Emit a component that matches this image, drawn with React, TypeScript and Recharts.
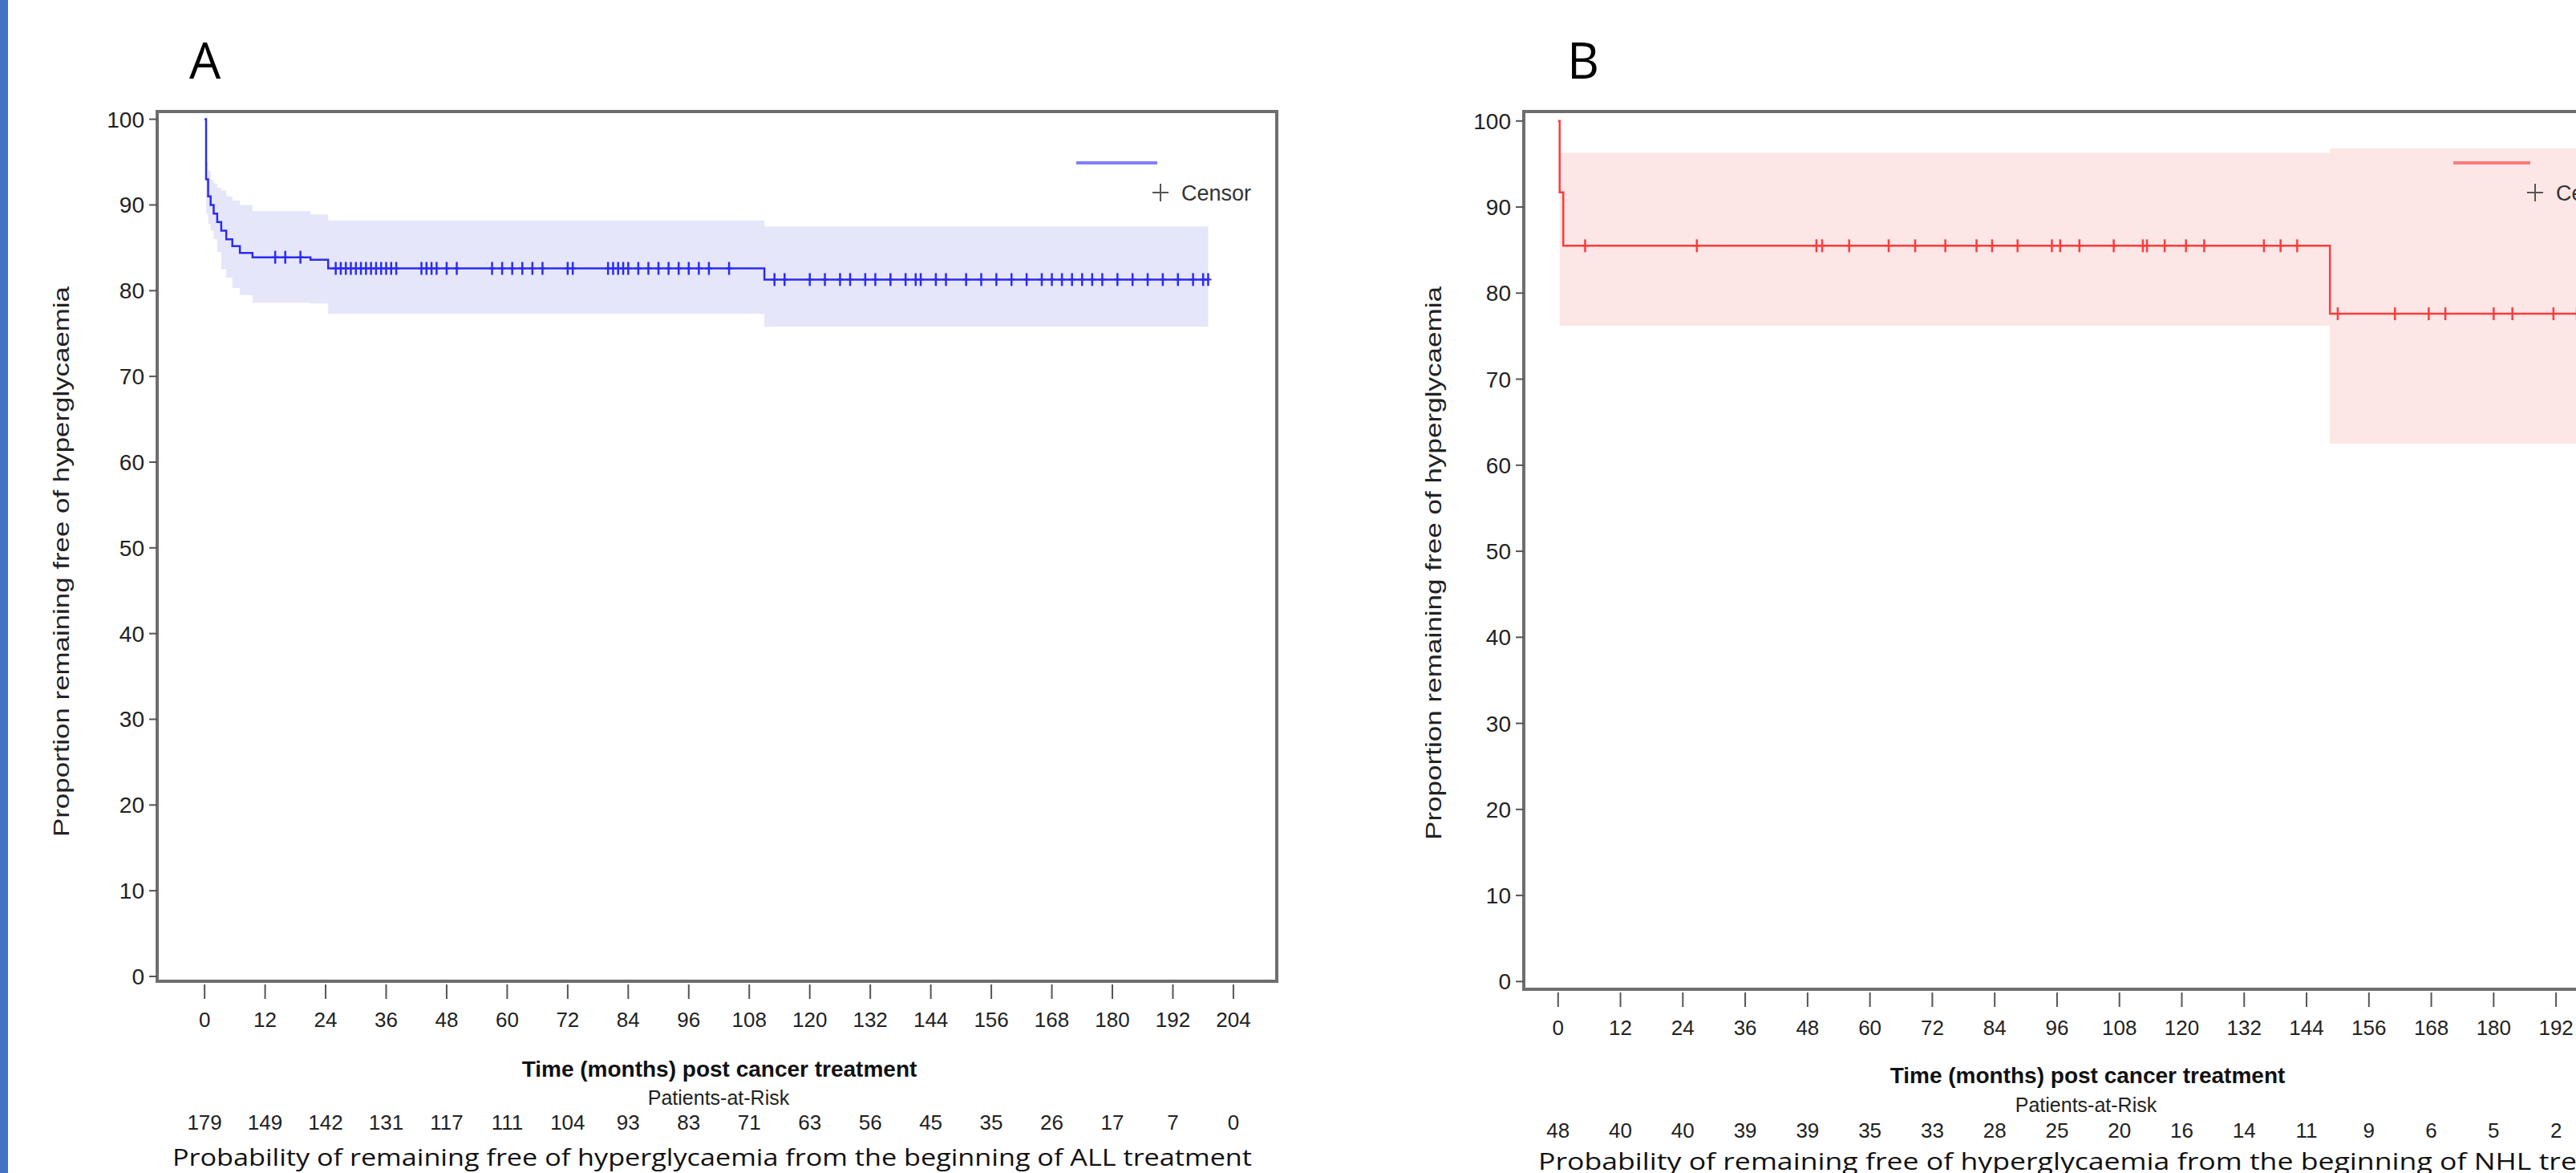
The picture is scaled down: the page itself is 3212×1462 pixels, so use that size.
import React from 'react';
import { ComposedChart, Area, Line, Scatter, XAxis, YAxis, ReferenceArea } from 'recharts';

// ---- Panel A (ALL) ----
const monthTicksA = [0, 12, 24, 36, 48, 60, 72, 84, 96, 108, 120, 132, 144, 156, 168, 180, 192, 204];
const atRiskA = [179, 149, 142, 131, 117, 111, 104, 93, 83, 71, 63, 56, 45, 35, 26, 17, 7, 0];
const kmTimesA = [0, 0.3, 0.7, 1.2, 1.8, 2.5, 3.3, 4.3, 5.5, 7, 9.5, 21, 24.5, 111, 199];
const survA = [100, 93, 91, 90, 89, 88, 87, 86, 85.2, 84.4, 83.9, 83.6, 82.6, 81.3, 81.3];
const lowerA = [100, 89, 87.8, 87, 86, 84.5, 82.5, 81.5, 80.3, 79.5, 78.6, 78.5, 77.3, 75.8, 75.8];
const upperA = [100, 95, 94, 93, 92.5, 92, 91.7, 91, 90.5, 90, 89.3, 88.9, 88.2, 87.5, 87.5];
const censorA = [14, 16, 19, 26, 27, 28, 29, 30, 31, 32, 33, 34, 35, 36, 37, 38, 43, 44, 45, 46, 48, 50, 57, 59, 61, 63, 65, 67, 72, 73, 80, 81, 82, 83, 84, 86, 88, 90, 92, 94, 96, 98, 100, 104, 113, 115, 120, 123, 126, 128, 131, 133, 136, 139, 141, 142, 145, 147, 151, 154, 157, 160, 163, 166, 168, 170, 172, 174, 176, 178, 181, 184, 187, 190, 193, 196, 198, 199];

// ---- Panel B (NHL) ----
const monthTicksB = [0, 12, 24, 36, 48, 60, 72, 84, 96, 108, 120, 132, 144, 156, 168, 180, 192];
const atRiskB = [48, 40, 40, 39, 39, 35, 33, 28, 25, 20, 16, 14, 11, 9, 6, 5, 2];
const kmTimesB = [0, 0.3, 1, 148.5, 205];
const survB = [100, 91.7, 85.5, 77.6, 77.6];
const lowerB = [100, 76.2, 76.2, 62.5, 62.5];
const upperB = [100, 96.3, 96.3, 96.8, 96.8];
const censorB = [5.2, 26.7, 49.7, 50.8, 56, 63.6, 68.7, 74.5, 80.5, 83.5, 88.4, 95, 96.6, 100.3, 106.9, 112.5, 113.3, 116.7, 120.8, 124.3, 135.8, 139, 142.2, 150, 161, 167.5, 170.7, 180, 183.6, 191.5, 196, 200];

const build = (t: number[], s: number[], lo: number[], hi: number[]) =>
  t.map((v, i) => ({ t: v, s: s[i], ci: [lo[i], hi[i]] }));
const censorPts = (c: number[], t: number[], s: number[]) =>
  c.map(v => {
    let k = 0;
    t.forEach((tt, i) => { if (tt <= v) k = i; });
    return { t: v, s: s[k] };
  });

const FONT = '"Liberation Sans", Arial, sans-serif';

const makeTick = (atRisk: number[]) => (p: any) => {
  const { x, y, payload, index } = p;
  return (
    <g>
      <line x1={x} x2={x} y1={y + 4} y2={y + 22} stroke="#555" strokeWidth={2} />
      <text x={x} y={y + 57} textAnchor="middle" fontSize={26} fontFamily={FONT} fill="#222">{payload.value}</text>
      <text x={x} y={y + 185} textAnchor="middle" fontSize={26} fontFamily={FONT} fill="#222">{atRisk[index]}</text>
    </g>
  );
};

const plus = (color: string) => (p: any) => (
  <g>
    <line x1={p.cx} x2={p.cx} y1={p.cy - 8} y2={p.cy + 8} stroke={color} strokeWidth={2.5} />
    <line x1={p.cx - 4} x2={p.cx + 4} y1={p.cy} y2={p.cy} stroke={color} strokeWidth={2} />
  </g>
);

interface PanelProps {
  width: number; marginLeft: number; marginRight: number; xAxisHeight: number;
  xDomain: [number, number]; yDomain: [number, number]; ticks: number[]; atRisk: number[];
  data: any[]; censor: any[]; line: string; band: string;
}

const Panel = (p: PanelProps) => (
  <ComposedChart width={p.width} height={1462} data={p.data}
    margin={{ top: 139, left: p.marginLeft, right: p.marginRight, bottom: 0 }}>
    <XAxis dataKey="t" type="number" domain={p.xDomain} ticks={p.ticks} allowDataOverflow
      height={p.xAxisHeight} axisLine={false} tickLine={false} tickSize={0} tickMargin={0}
      interval={0} tick={makeTick(p.atRisk)} />
    <YAxis type="number" domain={p.yDomain} ticks={[0, 10, 20, 30, 40, 50, 60, 70, 80, 90, 100]}
      allowDataOverflow width={100} axisLine={false} tickSize={10} tickMargin={6}
      tickLine={{ stroke: '#555', strokeWidth: 2 }}
      tick={{ fontSize: 28, fontFamily: FONT, fill: '#222' }} />
    <Area dataKey="ci" type="stepAfter" stroke="none" fill={p.band} fillOpacity={1} isAnimationActive={false} />
    <Line dataKey="s" type="stepAfter" stroke={p.line} strokeWidth={2.5} dot={false} isAnimationActive={false} />
    <Scatter data={p.censor} dataKey="s" shape={plus(p.line)} isAnimationActive={false} />
    <ReferenceArea x1={p.xDomain[0]} x2={p.xDomain[1]} y1={p.yDomain[0]} y2={p.yDomain[1]}
      fill="none" stroke="#6e6e6e" strokeWidth={4} ifOverflow="visible" />
  </ComposedChart>
);

export default function App() {
  const dataA = build(kmTimesA, survA, lowerA, upperA);
  const dataB = build(kmTimesB, survB, lowerB, upperB);
  const capA = 'Probability of remaining free of hyperglycaemia from the beginning of ALL treatment';
  const capB = 'Probability of remaining free of hyperglycaemia from the beginning of NHL treatment';
  const yLab = 'Proportion remaining free of hyperglycaemia';
  return (
    <div style={{ position: 'absolute', left: 0, top: 0, width: 3212, height: 1462, overflow: 'hidden', background: '#fff' }}>
      <div style={{ position: 'absolute', left: 0, top: 0 }}>
        <Panel width={1640} marginLeft={96} marginRight={48} xAxisHeight={239}
          xDomain={[-9.4, 212.6]} yDomain={[-0.56, 100.9]} ticks={monthTicksA} atRisk={atRiskA}
          data={dataA} censor={censorPts(censorA, kmTimesA, survA)} line="#2b2bf5" band="#e6e6fb" />
      </div>
      <div style={{ position: 'absolute', left: 1606, top: 0 }}>
        <Panel width={1800} marginLeft={194} marginRight={110} xAxisHeight={229}
          xDomain={[-6.6, 208.8]} yDomain={[-0.9, 101.1]} ticks={monthTicksB} atRisk={atRiskB}
          data={dataB} censor={censorPts(censorB, kmTimesB, survB)} line="#ff3b3b" band="#fde6e6" />
      </div>
      <svg width={3212} height={1462} style={{ position: 'absolute', left: 0, top: 0, pointerEvents: 'none' }}>
        <rect x={0} y={0} width={10} height={1462} fill="#4472c4" />
        <text x={236} y={98} fontSize={62} fontFamily="Open Sans, sans-serif" fill="#000">A</text>
        <text x={1954} y={98} fontSize={62} fontFamily="Open Sans, sans-serif" fill="#000">B</text>
        <text transform="translate(86,700) rotate(-90)" textAnchor="middle" fontSize={28} fontFamily={FONT} fill="#222" textLength={686} lengthAdjust="spacingAndGlyphs">{yLab}</text>
        <text transform="translate(1797,702) rotate(-90)" textAnchor="middle" fontSize={28} fontFamily={FONT} fill="#222" textLength={690} lengthAdjust="spacingAndGlyphs">{yLab}</text>
        <text x={897} y={1342} textAnchor="middle" fontSize={28} fontWeight="bold" fontFamily={FONT} fill="#111">Time (months) post cancer treatment</text>
        <text x={896} y={1377} textAnchor="middle" fontSize={25} fontFamily={FONT} fill="#222">Patients-at-Risk</text>
        <text x={215} y={1453} fontSize={30} fontFamily="Open Sans, sans-serif" fill="#111" textLength={1346} lengthAdjust="spacingAndGlyphs">{capA}</text>
        <text x={2603} y={1350} textAnchor="middle" fontSize={28} fontWeight="bold" fontFamily={FONT} fill="#111">Time (months) post cancer treatment</text>
        <text x={2601} y={1386} textAnchor="middle" fontSize={25} fontFamily={FONT} fill="#222">Patients-at-Risk</text>
        <text x={1918} y={1458} fontSize={30} fontFamily="Open Sans, sans-serif" fill="#111" textLength={1415} lengthAdjust="spacingAndGlyphs">{capB}</text>
        <line x1={1342} x2={1443} y1={203} y2={203} stroke="#8080ff" strokeWidth={4} />
        <line x1={1447} x2={1447} y1={229} y2={251} stroke="#555" strokeWidth={2} />
        <line x1={1437} x2={1457} y1={240} y2={240} stroke="#555" strokeWidth={2} />
        <text x={1473} y={250} fontSize={27} fontFamily={FONT} fill="#333">Censor</text>
        <line x1={3059} x2={3155} y1={203} y2={203} stroke="#ff7b7b" strokeWidth={4} />
        <line x1={3161} x2={3161} y1={229} y2={251} stroke="#555" strokeWidth={2} />
        <line x1={3151} x2={3171} y1={240} y2={240} stroke="#555" strokeWidth={2} />
        <text x={3187} y={250} fontSize={27} fontFamily={FONT} fill="#333">Censor</text>
      </svg>
    </div>
  );
}
